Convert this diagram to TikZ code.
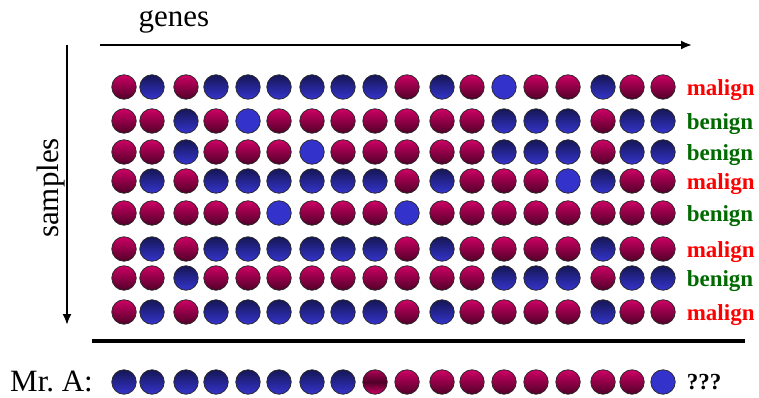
\documentclass[tikz,border=0pt]{standalone}
\usepackage{fontspec}
\setmainfont{Liberation Serif}
\usepackage{tikz}
\usetikzlibrary{arrows.meta, positioning}

\definecolor{magtop}{RGB}{205,0,100}
\definecolor{magbot}{RGB}{80,0,40}
\definecolor{navytop}{RGB}{22,22,85}
\definecolor{navybot}{RGB}{52,52,205}
\definecolor{flatblue}{RGB}{51,51,204}
\definecolor{malignred}{RGB}{255,0,0}
\definecolor{benigngreen}{RGB}{0,105,0}

\begin{document}
\begin{tikzpicture}[
    x=1pt, y=-1pt,
    ball/.style={circle, draw=black!85, line width=0.7pt, minimum size=24.5pt, inner sep=0pt},
    ballR/.style={ball, top color=magtop, bottom color=magbot},
    ballB/.style={ball, top color=navytop, bottom color=navybot},
    ballF/.style={ball, fill=flatblue},
    ballX/.style={ball, top color=magtop!85!black, bottom color=magtop, middle color=magbot},
    tag/.style={inner sep=0pt, font=\fontsize{23}{23}\selectfont\bfseries},
    big/.style={font=\fontsize{31}{31}\selectfont},
    axis/.style={-{Latex[length=11pt, width=9pt]}, line width=2pt}
]
\useasboundingbox (0,0) rectangle (759,398);

\def\colx{{124,152,186,216,248,279,312,343,375,407,442,472,504,536,568,603,632,663}}

% axes
\coordinate (gstart) at (100,45);
\coordinate (gend)   at (692,45);
\coordinate (sstart) at (67,45);
\coordinate (send)   at (67,325);
\coordinate (sepL)   at (92,341);
\coordinate (sepR)   at (745,341);

\draw[axis] (gstart) -- (gend);
\draw[axis] (sstart) -- (send);
\draw[line width=3.5pt] (sepL) -- (sepR);

\node[big] (genes)   at (174,22) {genes};
\node[big, rotate=90] (samples) at (51,188) {samples};

% samples x genes
\foreach \c [count=\k] in {R,B,R,B,B,B,B,B,B,R,B,R,F,R,R,B,R,R}
  {\pgfmathsetmacro\xx{\colx[\k-1]} \node[ball\c] (s1-\k) at (\xx,87) {};}
\foreach \c [count=\k] in {R,R,B,R,F,R,R,R,R,R,R,R,B,B,B,R,B,B}
  {\pgfmathsetmacro\xx{\colx[\k-1]} \node[ball\c] (s2-\k) at (\xx,121) {};}
\foreach \c [count=\k] in {R,R,B,R,R,R,F,R,R,R,R,R,B,B,B,R,B,B}
  {\pgfmathsetmacro\xx{\colx[\k-1]} \node[ball\c] (s3-\k) at (\xx,152) {};}
\foreach \c [count=\k] in {R,B,R,B,B,B,B,B,B,R,B,R,R,R,F,B,R,R}
  {\pgfmathsetmacro\xx{\colx[\k-1]} \node[ball\c] (s4-\k) at (\xx,181) {};}
\foreach \c [count=\k] in {R,R,R,R,R,F,R,R,R,F,R,R,R,R,R,R,R,R}
  {\pgfmathsetmacro\xx{\colx[\k-1]} \node[ball\c] (s5-\k) at (\xx,213) {};}
\foreach \c [count=\k] in {R,B,R,B,B,B,B,B,B,R,B,R,R,R,R,B,R,R}
  {\pgfmathsetmacro\xx{\colx[\k-1]} \node[ball\c] (s6-\k) at (\xx,249) {};}
\foreach \c [count=\k] in {R,R,B,R,R,R,R,R,R,R,R,R,B,B,B,R,B,B}
  {\pgfmathsetmacro\xx{\colx[\k-1]} \node[ball\c] (s7-\k) at (\xx,278) {};}
\foreach \c [count=\k] in {R,B,R,B,B,B,B,B,B,R,B,R,R,R,R,B,R,R}
  {\pgfmathsetmacro\xx{\colx[\k-1]} \node[ball\c] (s8-\k) at (\xx,312) {};}

% diagnoses
\node[tag, text=malignred,   right=11pt of s1-18, yshift=-3pt] (lab1) {malign};
\node[tag, text=benigngreen, right=11pt of s2-18, yshift=-3pt] (lab2) {benign};
\node[tag, text=benigngreen, right=11pt of s3-18, yshift=-3pt] (lab3) {benign};
\node[tag, text=malignred,   right=11pt of s4-18, yshift=-3pt] (lab4) {malign};
\node[tag, text=benigngreen, right=11pt of s5-18, yshift=-3pt] (lab5) {benign};
\node[tag, text=malignred,   right=11pt of s6-18, yshift=-3pt] (lab6) {malign};
\node[tag, text=benigngreen, right=11pt of s7-18, yshift=-3pt] (lab7) {benign};
\node[tag, text=malignred,   right=11pt of s8-18, yshift=-3pt] (lab8) {malign};

% new patient
\node[big, anchor=west, inner sep=0pt] (mra) at (10,381) {Mr.\ A:};
\foreach \c [count=\k] in {B,B,B,B,B,B,B,B,X,R,R,R,R,R,R,R,R,F}
  {\pgfmathsetmacro\xx{\colx[\k-1]} \node[ball\c] (a-\k) at (\xx,382) {};}
\node[tag, right=11pt of a-18] (query) {???};

\end{tikzpicture}
\end{document}
